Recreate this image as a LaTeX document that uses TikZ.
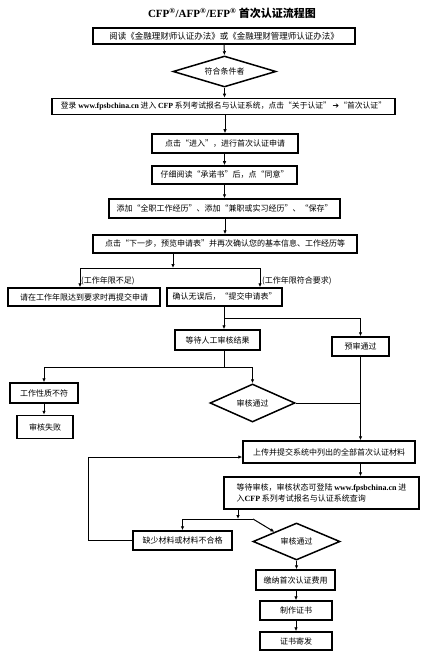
\documentclass[tikz,border=0pt]{standalone}
\usepackage{fontspec}
\setmainfont{Noto Sans CJK SC}
\newfontfamily\lat{Liberation Serif}
\newfontfamily\dv{DejaVu Sans}
\usetikzlibrary{arrows.meta,shapes.geometric}
\begin{document}
\begin{tikzpicture}[x=1pt,y=-1pt,
  box/.style={draw,line width=1.5pt,inner sep=0pt,font=\fontsize{8}{11}\selectfont,align=center},
  dia/.style={draw,diamond,line width=1.5pt,inner sep=0pt,font=\fontsize{8}{10}\selectfont},
  conn/.style={line width=1pt,-{Latex[length=4pt,width=3.5pt]}},
  plain/.style={line width=1pt},
  lbl/.style={font=\fontsize{8}{9}\selectfont,inner sep=0pt,anchor=west}]
\useasboundingbox (0,0) rectangle (433,655);
\node (title) at (232,13) {\fontsize{11}{13}\selectfont\bfseries {\lat CFP\textsuperscript{®}/AFP\textsuperscript{®}/EFP\textsuperscript{®}} 首次认证流程图};
\node[box,minimum width=262pt,minimum height=16pt,font=\fontsize{8.5}{11}\selectfont] (b1) at (224,36) {阅读《金融理财师认证办法》或《金融理财管理师认证办法》};
\node[dia,minimum width=103pt,minimum height=31pt,aspect=3.3] (d1) at (224.5,71.5) {符合条件者};
\node[box,minimum width=343pt,minimum height=16pt,font=\fontsize{7.8}{9}\selectfont] (b3) at (223.5,106.5) {登录 {\lat\bfseries www.fpsbchina.cn} 进入 {\lat\bfseries CFP} 系列考试报名与认证系统，点击“关于认证” {\dv\bfseries ➔}“首次认证”};
\node[box,minimum width=146pt,minimum height=19pt] (b4) at (225,143.5) {点击“进入”，进行首次认证申请};
\node[box,minimum width=145pt,minimum height=18pt] (b5) at (224.5,175) {仔细阅读“承诺书”后，点“同意”};
\node[box,minimum width=231pt,minimum height=19pt] (b6) at (224.5,208.5) {添加“全职工作经历”、添加“兼职或实习经历”、“保存”};
\node[box,minimum width=264pt,minimum height=18pt] (b7) at (225,244) {点击“下一步，预览申请表”并再次确认您的基本信息、工作经历等};
\node[box,minimum width=152pt,minimum height=18pt] (b8) at (84,297) {请在工作年限达到要求时再提交申请};
\node[box,minimum width=115pt,minimum height=18pt] (b9) at (224.5,297) {确认无误后，“提交申请表”};
\node[box,minimum width=85pt,minimum height=20pt] (b10) at (217.5,340) {等待人工审核结果};
\node[box,minimum width=57pt,minimum height=19pt] (b11) at (360.5,346.5) {预审通过};
\node[box,minimum width=68pt,minimum height=20pt] (b12) at (44,393) {工作性质不符};
\node[box,minimum width=56pt,minimum height=23pt] (b13) at (45,427) {审核失败};
\node[dia,minimum width=85pt,minimum height=38pt,aspect=2.24] (d2) at (252.5,403) {审核通过};
\node[box,minimum width=172pt,minimum height=22pt] (b14) at (329,452) {上传并提交系统中列出的全部首次认证材料};
\node[box,minimum width=195pt,minimum height=32pt,align=left] (b15) at (321.5,493) {等待审核，审核状态可登陆 {\lat\bfseries www.fpsbchina.cn} 进\\入{\lat\bfseries CFP} 系列考试报名与认证系统查询};
\node[box,minimum width=99pt,minimum height=19pt] (b16) at (182.5,540.5) {缺少材料或材料不合格};
\node[dia,minimum width=87pt,minimum height=37pt,aspect=2.35] (d3) at (296.5,541.5) {审核通过};
\node[box,minimum width=79pt,minimum height=20pt] (b17) at (295.5,580) {缴纳首次认证费用};
\node[box,minimum width=72pt,minimum height=19pt] (b18) at (296,610.5) {制作证书};
\node[box,minimum width=72pt,minimum height=18pt] (b19) at (296,641) {证书寄发};
\node[lbl] (l1) at (81,281) {(工作年限不足)};
\node[lbl] (l2) at (262,281) {(工作年限符合要求)};
% coordinates
\coordinate (j1) at (173,268);
\coordinate (j1l) at (80,268);
\coordinate (j1r) at (260,268);
\coordinate (j2) at (224,318);
\coordinate (j3) at (224,367);
\coordinate (j4) at (238,519);
\coordinate (j4a) at (253,519);
\coordinate (lp) at (88,457);
% connectors
\draw[conn] (b1.south) -- (d1.north);
\draw[conn] (d1.south) -- (d1.south |- b3.north);
\draw[conn] (b4.north |- b3.south) -- (b4.north);
\draw[conn] (b5.north |- b4.south) -- (b5.north);
\draw[conn] (b6.north |- b5.south) -- (b6.north);
\draw[conn] (b7.north |- b6.south) -- (b7.north);
\draw[conn] (j1 |- b7.south) -- (j1);
\draw[plain] (j1l) -- (j1r);
\draw[conn] (j1l) -- (j1l |- b8.north);
\draw[conn] (j1r) -- (j1r |- b9.north);
\draw[conn] (j2 |- b9.south) -- (j2 |- b10.north);
\draw[conn] (j2) -| (b11.north);
\draw[plain] (j3 |- b10.south) -- (j3);
\draw[conn] (j3) -| (b12.north);
\draw[conn] (j3) -| (d2.north);
\draw[conn] (b12.south) -- (b12.south |- b13.north);
\draw[plain] (d2.east) -- (d2.east -| b11.south);
\draw[conn] (b11.south) -- (b11.south |- b14.north);
\draw[conn] (b11.south |- b14.south) -- (b11.south |- b15.north);
\draw[conn] (j4 |- b15.south) -- (j4);
\draw[plain] (j4) -- (j4a);
\draw[conn] (j4a) -- (d3.north west);
\draw[conn] (j4) -| (b16.north);
\draw[conn] (b16.west) -| (lp) -- (lp -| b14.west);
\draw[conn] (d3.south) -- (d3.south |- b17.north);
\draw[conn] (b18.north |- b17.south) -- (b18.north);
\draw[conn] (b18.south) -- (b19.north);
\end{tikzpicture}
\end{document}
